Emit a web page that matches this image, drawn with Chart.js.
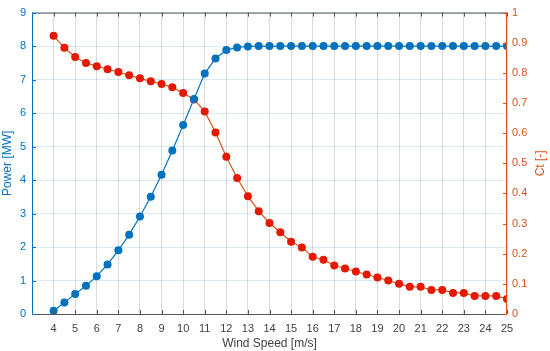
<!DOCTYPE html>
<html>
<head>
<meta charset="utf-8">
<script src="https://cdn.jsdelivr.net/npm/chart.js@4"></script>
<style>
  html, body { margin: 0; padding: 0; background: #fff; }
  #wrap { width: 550px; height: 351px; }
</style>
</head>
<body>
<div id="wrap"><canvas id="chart"></canvas></div>
<script>
// ── Data ─────────────────────────────────────────────────────
const windSpeed = [4, 4.5, 5, 5.5, 6, 6.5, 7, 7.5, 8, 8.5, 9, 9.5, 10, 10.5, 11, 11.5, 12, 12.5,
  13, 13.5, 14, 14.5, 15, 15.5, 16, 16.5, 17, 17.5, 18, 18.5, 19, 19.5, 20, 20.5, 21, 21.5,
  22, 22.5, 23, 23.5, 24, 24.5, 25];
const power = [0.1, 0.34, 0.6, 0.84, 1.13, 1.48, 1.9, 2.37, 2.91, 3.5, 4.16, 4.88, 5.64, 6.42,
  7.18, 7.63, 7.88, 7.96, 7.99, 8, 8, 8, 8, 8, 8, 8, 8, 8, 8, 8, 8, 8, 8, 8, 8, 8,
  8, 8, 8, 8, 8, 8, 8];
const ct = [0.923, 0.883, 0.853, 0.833, 0.822, 0.812, 0.803, 0.792, 0.782, 0.772, 0.763, 0.752,
  0.733, 0.712, 0.672, 0.602, 0.522, 0.451, 0.391, 0.341, 0.302, 0.271, 0.24, 0.221, 0.19,
  0.18, 0.161, 0.151, 0.141, 0.131, 0.121, 0.111, 0.1, 0.09, 0.09, 0.08, 0.08, 0.07, 0.07,
  0.06, 0.06, 0.06, 0.05];
const xTicks = [4, 5, 6, 7, 8, 9, 10, 11, 12, 13, 14, 15, 16, 17, 18, 19, 20, 21, 22, 23, 24, 25];

const BLUE = '#0072BD';
const ORANGE = '#D95319';
const RED = '#E31A00';
const AXIS = '#555555';
const FONT = "'Liberation Sans', Arial, sans-serif";

// ── Box + inward ticks + right title (MATLAB style) ──────────
const matlabBox = {
  id: 'matlabBox',
  afterDraw(chart) {
    const { ctx, chartArea: a, scales } = chart;
    const len = 4;
    ctx.save();
    ctx.lineWidth = 1;

    // top + bottom lines with ticks
    ctx.strokeStyle = AXIS;
    ctx.beginPath();
    ctx.moveTo(a.left, a.top + 0.5); ctx.lineTo(a.right, a.top + 0.5);
    ctx.moveTo(a.left, a.bottom + 0.5); ctx.lineTo(a.right, a.bottom + 0.5);
    xTicks.forEach(v => {
      const px = Math.round(scales.x.getPixelForValue(v)) + 0.5;
      ctx.moveTo(px, a.top); ctx.lineTo(px, a.top + len);
      ctx.moveTo(px, a.bottom); ctx.lineTo(px, a.bottom - len);
    });
    ctx.stroke();

    // left axis
    ctx.strokeStyle = BLUE;
    ctx.beginPath();
    ctx.moveTo(a.left + 0.5, a.top); ctx.lineTo(a.left + 0.5, a.bottom + 1);
    for (let v = 0; v <= 9; v++) {
      const py = Math.round(scales.y.getPixelForValue(v)) + 0.5;
      ctx.moveTo(a.left, py); ctx.lineTo(a.left + len, py);
    }
    ctx.stroke();

    // right axis
    ctx.strokeStyle = ORANGE;
    ctx.beginPath();
    ctx.moveTo(a.right - 0.5, a.top); ctx.lineTo(a.right - 0.5, a.bottom + 1);
    for (let i = 0; i <= 10; i++) {
      const py = Math.round(scales.y1.getPixelForValue(i / 10)) + 0.5;
      ctx.moveTo(a.right, py); ctx.lineTo(a.right - len, py);
    }
    ctx.stroke();

    // right title, reading bottom to top
    ctx.fillStyle = ORANGE;
    ctx.font = '12px ' + FONT;
    ctx.textAlign = 'center';
    ctx.textBaseline = 'middle';
    ctx.translate(541, (a.top + a.bottom) / 2);
    ctx.rotate(-Math.PI / 2);
    ctx.fillText('Ct [-]', 0, 0);
    ctx.restore();
  }
};

new Chart(document.getElementById('chart'), {
  type: 'line',
  data: {
    datasets: [
      {
        label: 'Power',
        data: windSpeed.map((x, i) => ({ x, y: power[i] })),
        yAxisID: 'y',
        borderColor: BLUE,
        backgroundColor: BLUE,
        borderWidth: 1.2,
        pointRadius: 4,
        pointBorderWidth: 0,
        order: 1
      },
      {
        label: 'Ct',
        data: windSpeed.map((x, i) => ({ x, y: ct[i] })),
        yAxisID: 'y1',
        borderColor: ORANGE,
        backgroundColor: RED,
        borderWidth: 1.2,
        pointRadius: 4,
        pointBorderWidth: 0,
        order: 2
      }
    ]
  },
  options: {
    responsive: true,
    maintainAspectRatio: false,
    animation: false,
    layout: { padding: { top: 9 } },
    plugins: { legend: { display: false }, tooltip: { enabled: false } },
    scales: {
      x: {
        type: 'linear',
        min: 3, max: 25,
        afterBuildTicks: s => { s.ticks = xTicks.map(v => ({ value: v })); },
        afterFit: s => { s.height = 37; },
        border: { display: false },
        grid: { color: 'rgba(38,38,38,0.17)', drawTicks: false },
        ticks: { color: '#404040', padding: 8, font: { size: 11, family: FONT } },
        title: { display: true, text: 'Wind Speed [m/s]', color: '#404040', padding: 0,
          font: { size: 12, family: FONT } }
      },
      y: {
        position: 'left',
        min: 0, max: 9,
        afterFit: s => { s.width = 32; },
        border: { display: false },
        grid: { color: 'rgba(0,114,189,0.15)', drawTicks: false },
        ticks: { stepSize: 1, color: BLUE, padding: 6, font: { size: 11, family: FONT } },
        title: { display: true, text: 'Power [MW]', color: BLUE, padding: 0,
          font: { size: 12, family: FONT } }
      },
      y1: {
        position: 'right',
        min: 0, max: 1,
        afterFit: s => { s.width = 43; },
        border: { display: false },
        grid: { display: false, drawTicks: false },
        ticks: { stepSize: 0.1, color: ORANGE, padding: 5, font: { size: 11, family: FONT },
          callback: v => Math.round(v * 10) / 10 },
        title: { display: false }
      }
    }
  },
  plugins: [matlabBox]
});
</script>
</body>
</html>
